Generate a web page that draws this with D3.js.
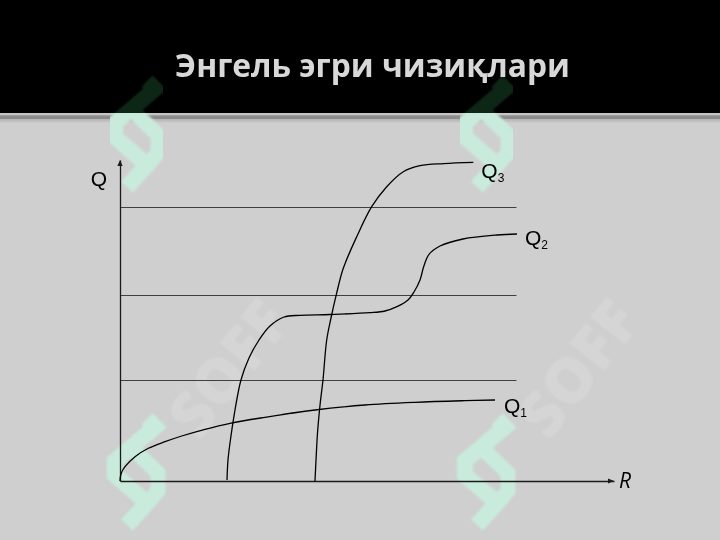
<!DOCTYPE html>
<html><head><meta charset="utf-8">
<script src="https://cdn.jsdelivr.net/npm/d3@7/dist/d3.min.js"></script>
<style>html,body{margin:0;padding:0;background:#cfcfcf;}svg{display:block;}</style>
</head><body>
<script>
// ---- data (R = income, Q = quantity, both in 0..100 chart units) ----
const title = "Энгель эгри чизиқлари";
const seriesNames = ["Q1", "Q2", "Q3"];
const q1R = [0, 0.2, 1.01, 3.04, 5.73, 9.11, 12.49, 17.21, 22.27, 29.35, 39.47, 49.60, 59.72, 69.84, 75.91];
const q1Q = [0, 2.2, 4.45, 7.57, 10.19, 12.24, 14.02, 16.11, 17.98, 19.84, 22.12, 23.68, 24.52, 25.02, 25.23];
const q2R = [21.66, 21.86, 22.27, 23.28, 24.49, 26.11, 28.14, 30.36, 33.20, 36.44, 42.51, 50.61, 53.64, 56.07, 58.30, 59.51, 60.73, 61.5, 62.55, 64.78, 69.43, 76.32, 80.36];
const q2Q = [0.31, 6.54, 11.84, 22.12, 31.46, 38.32, 43.93, 48.29, 51.09, 51.62, 51.87, 52.43, 52.96, 54.30, 56.39, 58.88, 62.62, 66.9, 70.6, 73.21, 75.39, 76.64, 76.95];
const q3R = [39.47, 39.68, 39.98, 40.49, 41.09, 41.84, 42.71, 43.87, 45.2, 47.92, 50.95, 53.99, 57.35, 60.73, 65.5, 71.52];
const q3Q = [0, 6.54, 14.95, 23.68, 31.46, 43.93, 50.78, 58.6, 66.26, 76.11, 85.45, 91.68, 96.36, 98.22, 98.9, 99.28];
const guideLevels = [85.26, 57.85, 31.37];
const guideEndR = 80.26;
const axisLabels = {y: "Q", x: "R"};

const W = 720, H = 540;
const svg = d3.select("body").append("svg").attr("width", W).attr("height", H);
const defs = svg.append("defs");

// ---- background ----
svg.append("rect").attr("width", W).attr("height", H).attr("fill", "#cfcfcf");
svg.append("rect").attr("width", W).attr("height", 113).attr("fill", "#000");
svg.append("rect").attr("y", 113).attr("width", W).attr("height", 2.3).attr("fill", "#c6c6c6");
svg.append("rect").attr("y", 115.3).attr("width", W).attr("height", 4).attr("fill", "#8c8c8c");
const grad = defs.append("linearGradient").attr("id", "sh").attr("x1", 0).attr("x2", 0).attr("y1", 0).attr("y2", 1);
grad.append("stop").attr("offset", 0).attr("stop-color", "#b4b4b4");
grad.append("stop").attr("offset", 1).attr("stop-color", "#cfcfcf");
svg.append("rect").attr("y", 119.3).attr("width", W).attr("height", 4).attr("fill", "url(#sh)");

// ---- watermark (decorative) ----
defs.append("clipPath").attr("id", "cHdr").append("rect").attr("width", W).attr("height", 113);
defs.append("clipPath").attr("id", "cBody").append("rect").attr("y", 113).attr("width", W).attr("height", H - 113);
const blur = defs.append("filter").attr("id", "soft");
blur.append("feGaussianBlur").attr("stdDeviation", 1.2);
const wmOffsets = [[0, -338, false], [350, -338, false], [0, 0, true], [350, 0, true]];
function drawWatermark(clip, logoCol, textCol) {
  const g = svg.append("g").attr("clip-path", `url(#${clip})`);
  wmOffsets.forEach(([dx, dy, withText]) => {
    const w = g.append("g").attr("transform", `translate(${95 + dx},${415 + dy})`).attr("filter", "url(#soft)");
    if (withText) {
      w.append("text").attr("transform", "translate(132,-48) rotate(-52)")
        .attr("text-anchor", "middle").attr("dominant-baseline", "central")
        .attr("font-family", "Open Sans, sans-serif").attr("font-weight", 800)
        .attr("font-size", 62).attr("fill", textCol).text("SOFF");
    }
    const line = d3.line();
    w.append("path").attr("d", line([[52, 4], [60, 12], [20, 46], [20, 60], [52, 88], [32, 110]]))
      .attr("fill", "none").attr("stroke", logoCol).attr("stroke-width", 16).attr("stroke-linejoin", "miter");
    w.append("path").attr("d", line([[38, 34], [63, 58], [63, 76], [52, 88]]))
      .attr("fill", "none").attr("stroke", logoCol).attr("stroke-width", 15).attr("stroke-linejoin", "miter");
  });
}
drawWatermark("cHdr", "#0a2618", "#121212");
drawWatermark("cBody", "#c9ebdb", "#d5d5d5");

// ---- title ----
const t = svg.append("text").attr("x", 372.5).attr("y", 77).attr("text-anchor", "middle")
  .attr("font-family", "Open Sans, sans-serif").attr("font-weight", 700)
  .attr("font-size", 30).attr("fill", "#d8d8d8").text(title);
const tw = t.node().getComputedTextLength();
t.attr("font-size", 30 * 395 / tw);

// ---- scales ----
const x = d3.scaleLinear().domain([0, 100]).range([120, 614]);
const y = d3.scaleLinear().domain([0, 100]).range([481, 160]);

// guide lines
svg.append("g").selectAll("line").data(guideLevels).join("line")
  .attr("x1", x(0)).attr("x2", x(guideEndR))
  .attr("y1", d => Math.round(y(d)) + 0.5).attr("y2", d => Math.round(y(d)) + 0.5)
  .attr("stroke", "#404040").attr("stroke-width", 1);

// axes (no ticks)
const xAxis = svg.append("g").attr("transform", `translate(0,${y(0)})`)
  .call(d3.axisBottom(x).tickValues([]).tickSizeOuter(0));
const yAxis = svg.append("g").attr("transform", `translate(${x(0)},0)`)
  .call(d3.axisLeft(y).tickValues([]).tickSizeOuter(0));
[xAxis, yAxis].forEach(a => a.select(".domain").attr("stroke", "#1a1a1a").attr("stroke-width", 1.3));
// arrowheads
svg.append("path").attr("d", `M${x(100)},${y(0)} l-6,-2.6 l0,5.2 z`).attr("fill", "#1a1a1a");
svg.append("path").attr("d", `M${x(0)},${y(100)} l-2.6,6 l5.2,0 z`).attr("fill", "#1a1a1a");

// curves
const series = [
  {name: seriesNames[0], R: q1R, Q: q1Q, ldx: 9, ldy: 13},
  {name: seriesNames[1], R: q2R, Q: q2Q, ldx: 8, ldy: 11},
  {name: seriesNames[2], R: q3R, Q: q3Q, ldx: 8, ldy: 16}
];
const lineGen = d3.line().x(d => x(d[0])).y(d => y(d[1])).curve(d3.curveCatmullRom.alpha(0.5));
series.forEach(s => {
  const pts = s.R.map((r, i) => [r, s.Q[i]]);
  svg.append("path").attr("d", lineGen(pts)).attr("fill", "none")
    .attr("stroke", "#000").attr("stroke-width", 1.3);
  const last = pts[pts.length - 1];
  const lab = svg.append("text").attr("x", x(last[0]) + s.ldx).attr("y", y(last[1]) + s.ldy)
    .attr("font-family", "Liberation Sans, Arial, sans-serif").attr("font-size", 21).attr("fill", "#000");
  lab.append("tspan").text(s.name[0]);
  lab.append("tspan").attr("font-size", 12).attr("dy", 4).text(s.name.slice(1));
});

// axis labels
svg.append("text").attr("x", x(0) - 21).attr("y", y(92)).attr("text-anchor", "middle")
  .attr("font-family", "Liberation Sans, Arial, sans-serif").attr("font-size", 21).text(axisLabels.y);
svg.append("text").attr("x", x(100) + 11).attr("y", y(-2.2)).attr("text-anchor", "middle")
  .attr("font-family", "Open Sans, sans-serif").attr("font-style", "italic").attr("font-size", 21).text(axisLabels.x);
</script>
</body></html>
